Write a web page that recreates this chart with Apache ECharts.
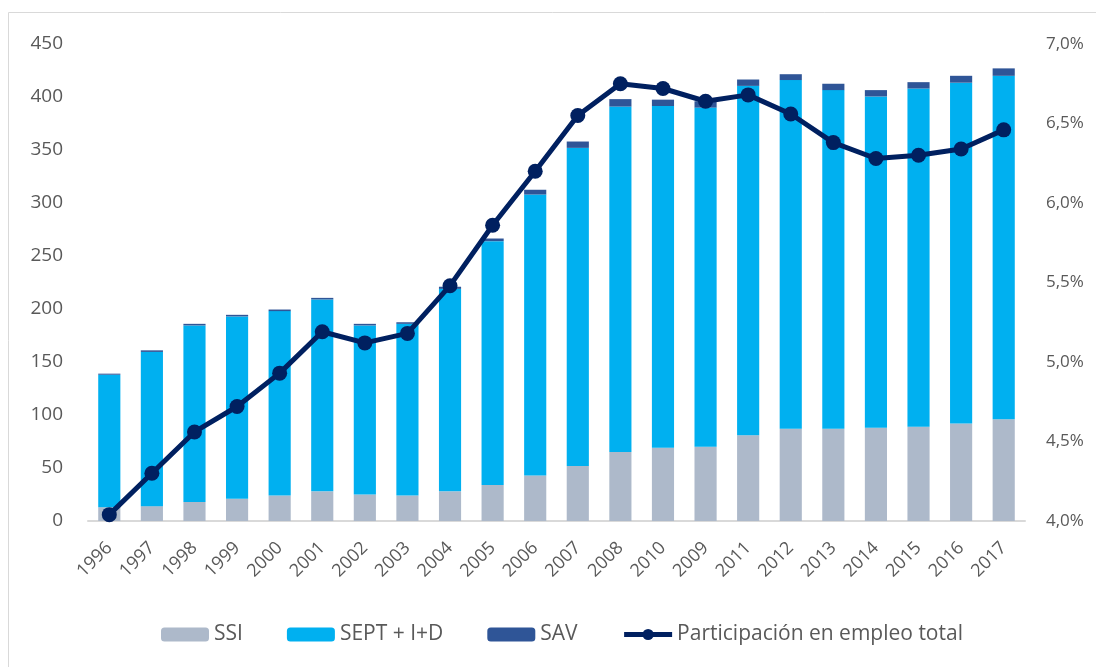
<!DOCTYPE html>
<html><head><meta charset="utf-8">
<script src="https://cdn.jsdelivr.net/npm/echarts@6/dist/echarts.min.js"></script>
<style>html,body{margin:0;padding:0;background:#fff}#c{width:1096px;height:667px}</style>
</head><body><div id="c"></div>
<script>
var categories = ['1996','1997','1998','1999','2000','2001','2002','2003','2004','2005','2006','2007','2008','2010','2009','2011','2012','2013','2014','2015','2016','2017'];
var ssi  = [13,14,18,21,24,28,25,24,28,34,43,52,65,69,70,81,87,87,88,89,92,96];
var sept = [125,145.5,166.5,172,174,181,159.5,162,191,230,265,300,326,322.5,320,329.5,329,319.5,312.5,319,321.5,324];
var sav  = [1,1.5,1.5,1.5,1.5,1.5,1.5,1.5,2,2.5,4.5,6,7,6,6,6,5.5,6,6,6,6.5,7];
var share = [4.04,4.30,4.56,4.72,4.93,5.19,5.12,5.18,5.48,5.86,6.20,6.55,6.75,6.72,6.64,6.68,6.56,6.38,6.28,6.30,6.34,6.46];
var leftTicks = {min:0, max:450, interval:50};
var rightTicks = {min:4, max:7, interval:0.5};

var font = "'Open Sans', sans-serif";
var chart = echarts.init(document.getElementById('c'));
chart.setOption({
  animation:false,
  textStyle:{fontFamily:font},
  graphic:[{type:'rect',shape:{x:8.5,y:12.5,width:1100,height:700},style:{fill:'none',stroke:'#D9D9D9',lineWidth:1},silent:true,z:-1}],
  grid:{left:88,right:71,top:44,bottom:146,containLabel:false,outerBoundsMode:'none'},
  legend:{
    top:619, left:156,
    itemWidth:48, itemHeight:14, itemGap:44,
    textStyle:{color:'#595959',fontSize:21,fontFamily:font},
    data:['SSI','SEPT + I+D','SAV',{name:'Participación en empleo total',lineStyle:{width:5},itemStyle:{borderWidth:0}}]
  },
  xAxis:{
    type:'category', data:categories,
    axisLine:{lineStyle:{color:'#D9D9D9',width:2}},
    axisTick:{show:false},
    axisLabel:{rotate:45,color:'#595959',fontSize:18,margin:24,interval:0}
  },
  yAxis:[{
    type:'value', min:leftTicks.min, max:leftTicks.max, interval:leftTicks.interval,
    splitLine:{show:false}, axisLine:{show:false}, axisTick:{show:false},
    axisLabel:{color:'#595959',fontSize:19,margin:25}
  },{
    type:'value', min:rightTicks.min, max:rightTicks.max, interval:rightTicks.interval,
    splitLine:{show:false}, axisLine:{show:false}, axisTick:{show:false},
    axisLabel:{color:'#595959',fontSize:17,margin:21,formatter:function(v){return v.toFixed(1).replace('.',',')+'%';}}
  }],
  series:[
    {name:'SSI',type:'bar',stack:'a',data:ssi,barWidth:'52%',itemStyle:{color:'#ADB9CA'}},
    {name:'SEPT + I+D',type:'bar',stack:'a',data:sept,itemStyle:{color:'#00B0F0'}},
    {name:'SAV',type:'bar',stack:'a',data:sav,itemStyle:{color:'#2F5597'}},
    {name:'Participación en empleo total',type:'line',yAxisIndex:1,data:share,
     symbol:'circle',symbolSize:15,lineStyle:{color:'#002060',width:5},itemStyle:{color:'#002060'}}
  ]
});
</script></body></html>
